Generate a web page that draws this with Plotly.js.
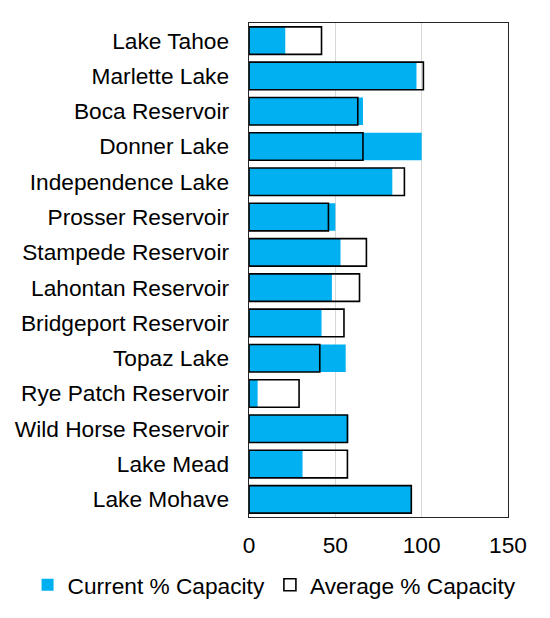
<!DOCTYPE html>
<html>
<head>
<meta charset="utf-8">
<script src="https://cdn.plot.ly/plotly-3.0.1.min.js"></script>
<style>
  html, body { margin: 0; padding: 0; background: #fff; }
  #chart { width: 550px; height: 618px; }
</style>
</head>
<body>
<div id="chart"></div>
<script>
var LAKES = [
  "Lake Tahoe", "Marlette Lake", "Boca Reservoir", "Donner Lake",
  "Independence Lake", "Prosser Reservoir", "Stampede Reservoir",
  "Lahontan Reservoir", "Bridgeport Reservoir", "Topaz Lake",
  "Rye Patch Reservoir", "Wild Horse Reservoir", "Lake Mead", "Lake Mohave"
];
var CURRENT = [21, 97, 66, 100, 83, 50, 53, 48, 42, 56, 5, 57.5, 31, 94];
var AVERAGE = [42, 101, 63, 66, 90, 46, 68, 64, 55, 41, 29, 57, 57, 94];
var X_TICKS = [0, 50, 100, 150];

var FONT = "Liberation Sans, Arial, sans-serif";

var current = {
  type: "bar",
  orientation: "h",
  name: "Current % Capacity",
  y: LAKES,
  x: CURRENT,
  marker: { color: "#00B0F0", line: { width: 0 } },
  hoverinfo: "x+y"
};

var average = {
  type: "bar",
  orientation: "h",
  name: "Average % Capacity",
  y: LAKES,
  x: AVERAGE,
  marker: { color: "rgba(255,255,255,0)", line: { color: "#000", width: 1.6 } },
  hoverinfo: "x+y"
};

var layout = {
  width: 550,
  height: 618,
  margin: { l: 248.5, r: 41.7, t: 22.5, b: 101.3 },
  paper_bgcolor: "#fff",
  plot_bgcolor: "#fff",
  barmode: "overlay",
  bargap: 0.22,
  font: { family: FONT, size: 22.7, color: "#000" },
  xaxis: {
    range: [0, 150],
    tickvals: X_TICKS,
    ticktext: X_TICKS.map(String),
    showgrid: true,
    gridcolor: "#d9d9d9",
    gridwidth: 1.2,
    zeroline: false,
    showline: true,
    mirror: true,
    linecolor: "#262626",
    linewidth: 1.4,
    ticks: "",
    ticklabelstandoff: 7,
    fixedrange: true
  },
  yaxis: {
    type: "category",
    autorange: "reversed",
    showgrid: false,
    zeroline: false,
    showline: true,
    mirror: true,
    linecolor: "#262626",
    linewidth: 1.4,
    ticks: "",
    ticklabelstandoff: 14,
    fixedrange: true
  },
  showlegend: true,
  legend: {
    orientation: "h",
    xref: "paper",
    x: -0.855,
    xanchor: "left",
    yref: "paper",
    y: -0.1375,
    yanchor: "middle",
    font: { family: FONT, size: 22.7, color: "#000" },
    itemwidth: 30,
    traceorder: "normal"
  }
};

Plotly.newPlot("chart", [current, average], layout, { displayModeBar: false, staticPlot: true });
</script>
</body>
</html>
